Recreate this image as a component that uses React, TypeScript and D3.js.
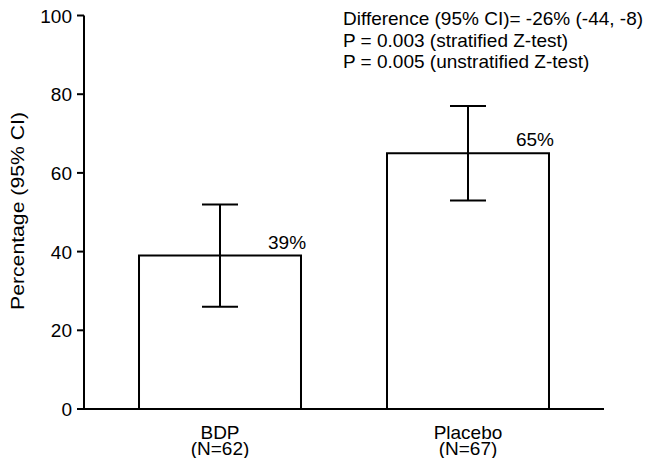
import React from "react";
import * as d3 from "d3";

const categories = ["BDP", "Placebo"];
const subLabels = ["(N=62)", "(N=67)"];
const values = [39, 65];
const ciLower = [26, 53];
const ciUpper = [52, 77];
const valueLabels = ["39%", "65%"];
const yTicks = [0, 20, 40, 60, 80, 100];
const annotations = [
  "Difference (95% CI)= -26% (-44, -8)",
  "P = 0.003 (stratified Z-test)",
  "P = 0.005 (unstratified Z-test)",
];

const W = 658;
const H = 458;
const FONT = "'Liberation Sans', Arial, Helvetica, sans-serif";
const FS = 19;

export default function App() {
  const x0 = 84;
  const x1 = 604;
  const y = d3.scaleLinear().domain([0, 100]).range([409, 15.5]);
  const x = d3
    .scaleBand<string>()
    .domain(categories)
    .range([x0, x1])
    .paddingInner(0.3468)
    .paddingOuter(0.2218);
  const bw = x.bandwidth();
  const cap = 18;
  const sw = 2;

  return (
    <svg
      width={W}
      height={H}
      style={{ position: "absolute", left: 0, top: 0, background: "#fff" }}
      fontFamily={FONT}
    >
      <rect x={0} y={0} width={W} height={H} fill="#fff" />
      {categories.map((c, i) => {
        const bx = x(c)!;
        const cx = bx + bw / 2;
        return (
          <g key={c}>
            <path
              d={`M${bx},${y(0)}V${y(values[i])}H${bx + bw}V${y(0)}`}
              fill="#fff"
              stroke="#000"
              strokeWidth={sw}
            />
            <line x1={cx} x2={cx} y1={y(ciLower[i])} y2={y(ciUpper[i])} stroke="#000" strokeWidth={sw} />
            <line x1={cx - cap} x2={cx + cap} y1={y(ciUpper[i])} y2={y(ciUpper[i])} stroke="#000" strokeWidth={sw} />
            <line x1={cx - cap} x2={cx + cap} y1={y(ciLower[i])} y2={y(ciLower[i])} stroke="#000" strokeWidth={sw} />
            <text x={cx + 48} y={y(values[i]) - 7} fontSize={FS} fill="#000">
              {valueLabels[i]}
            </text>
            <text x={cx} y={439} fontSize={FS} textAnchor="middle" fill="#000">
              {c}
            </text>
            <text x={cx} y={455} fontSize={FS} textAnchor="middle" fill="#000">
              {subLabels[i]}
            </text>
          </g>
        );
      })}
      <line x1={x0} x2={x0} y1={y(100)} y2={y(0)} stroke="#000" strokeWidth={sw} />
      <line x1={x0} x2={x1} y1={y(0)} y2={y(0)} stroke="#000" strokeWidth={sw} />
      {yTicks.map((t) => (
        <g key={t}>
          <line x1={x0 - 7} x2={x0} y1={y(t)} y2={y(t)} stroke="#000" strokeWidth={sw} />
          <text x={x0 - 12} y={y(t) + 7} fontSize={FS} textAnchor="end" fill="#000">
            {t}
          </text>
        </g>
      ))}
      <text
        transform={`translate(24,211) rotate(-90)`}
        fontSize={FS}
        textAnchor="middle"
        textLength={198}
        lengthAdjust="spacingAndGlyphs"
        fill="#000"
      >
        Percentage (95% CI)
      </text>
      {annotations.map((a, i) => (
        <text key={i} x={343} y={25 + i * 21.5} fontSize={FS} fill="#000">
          {a}
        </text>
      ))}
    </svg>
  );
}
